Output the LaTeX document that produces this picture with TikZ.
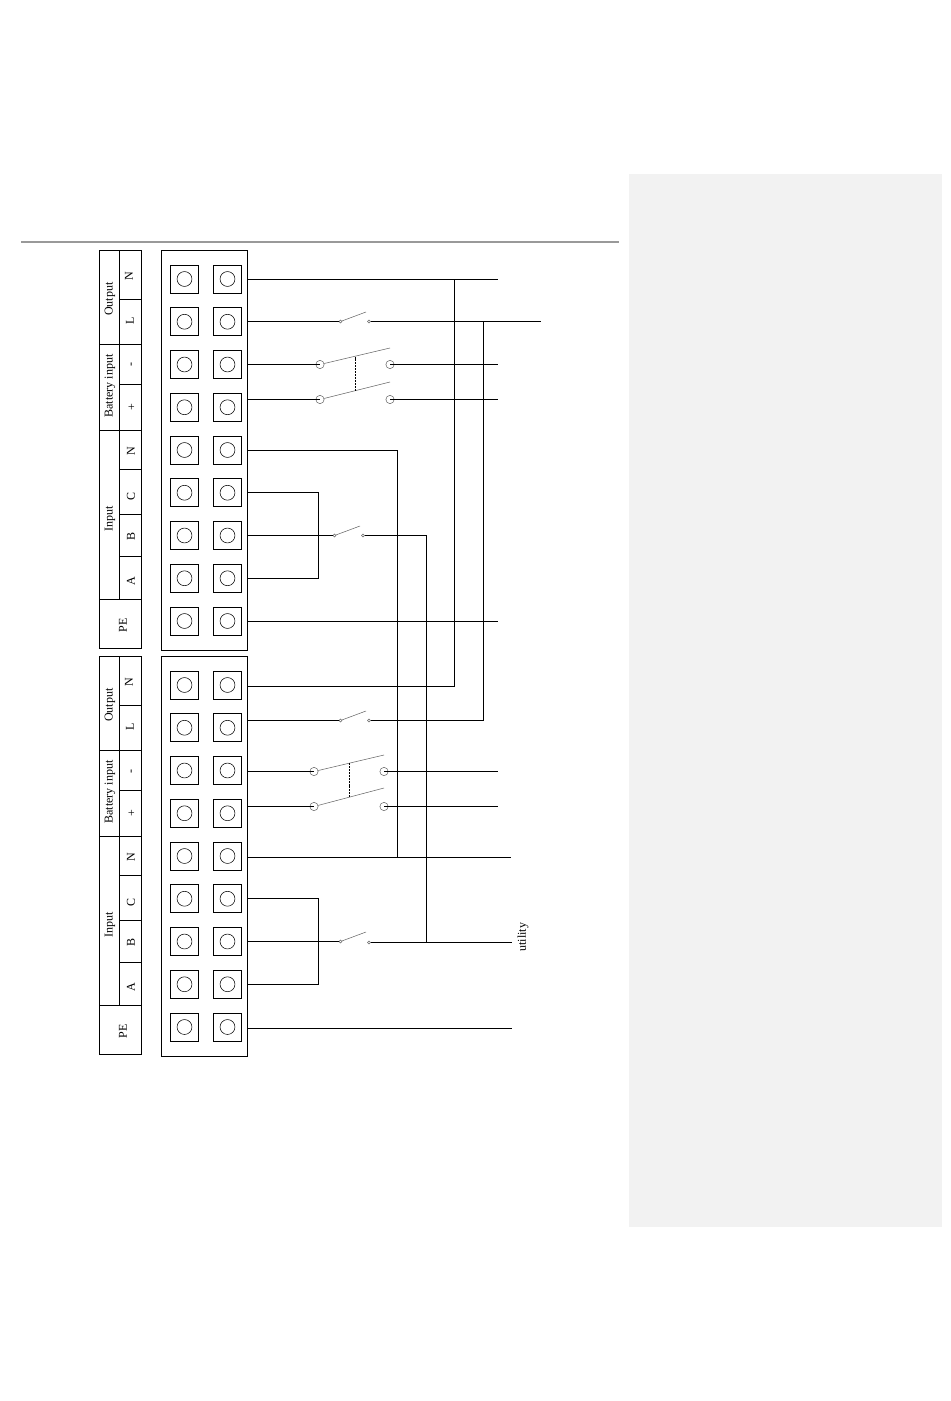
\documentclass[tikz,border=0pt]{standalone}
\usepackage{fontspec}
\setmainfont{Liberation Serif}
\tikzset{
  wire/.style={line width=0.75pt},
  blade/.style={line width=0.4pt,draw=black!60},
  cell/.style={draw,line width=0.6pt,minimum size=21pt,inner sep=0pt},
  hole/.style={draw,circle,line width=0.4pt,minimum size=11.2pt,inner sep=0pt},
  pin/.style={draw=black!60,circle,line width=0.4pt,minimum size=6.2pt,inner sep=0pt},
  dot/.style={draw=black!60,circle,line width=0.4pt,minimum size=2.2pt,inner sep=0pt},
  lbl/.style={rotate=90,font=\fontsize{9pt}{11pt}\selectfont,inner sep=0pt},
}
\begin{document}
\begin{tikzpicture}[x=0.75pt,y=0.75pt,yscale=-1,xscale=1]
\useasboundingbox (0,0) rectangle (950,1401);

% page
\fill [fill={rgb, 255:red, 242; green, 242; blue, 242 }] (629,174) rectangle (942,1227);
\draw [line width=0.9pt,draw=black!40] (21,242) -- (619,242);

% label tables and terminal blocks
\foreach \blk/\y in {a/0,b/406}{
  \begin{scope}[yshift=\y*0.75pt]
  \draw [line width=0.6pt] (99.5,250.5) rectangle (141.5,648.5);
  \draw [line width=0.6pt] (119.5,250.5) -- (119.5,599.5);
  \draw [line width=0.6pt] (99.5,344.5) -- (141.5,344.5) (99.5,430.5) -- (141.5,430.5) (99.5,599.5) -- (141.5,599.5);
  \draw [line width=0.6pt] (119.5,299.5) -- (141.5,299.5) (119.5,384.5) -- (141.5,384.5) (119.5,469.5) -- (141.5,469.5) (119.5,514.5) -- (141.5,514.5) (119.5,556.5) -- (141.5,556.5);
  \node [lbl] (\blk output) at (110,299) {Output};
  \node [lbl] (\blk battery) at (110,386) {Battery input};
  \node [lbl] (\blk input) at (110,519) {Input};
  \node [lbl] (\blk pe) at (123,625) {PE};
  \node [lbl] (\blk n) at (129,276) {N};
  \node [lbl] (\blk l) at (130,321) {L};
  \node [lbl] (\blk minus) at (132.5,365) {-};
  \node [lbl] (\blk plus) at (132,407) {+};
  \node [lbl] (\blk nin) at (131,451) {N};
  \node [lbl] (\blk c) at (131,496) {C};
  \node [lbl] (\blk b) at (131,536) {B};
  \node [lbl] (\blk a) at (131,581) {A};
  \draw [line width=0.6pt] (161.5,250.5) rectangle (247.5,650.5);
  \foreach \i in {1,...,9}{
    \pgfmathsetmacro{\rowy}{279+(\i-1)*42.75}
    \node [cell] (\blk l\i) at (184.5,\rowy) {};
    \node [hole] (\blk p\i) at (184.5,\rowy) {};
    \node [cell] (\blk r\i) at (227.5,\rowy) {};
    \node [hole] (\blk q\i) at (227.5,\rowy) {};
  }
  \end{scope}
}

% block side of the wires
\foreach \name/\y in {sN/279.5,sL/321.5,sM/364.5,sP/399.5,sIn/450.5,sC/492.5,sB/535.5,sA/578.5,sPE/621.5,
  tN/686.5,tL/720.5,tM/771.5,tP/806.5,tIn/857.5,tC/898.5,tB/941.5,tA/984.5,tPE/1028.5}{
  \coordinate (\name) at (247.5,\y);
}

% switch contacts, upper
\node [dot] (aLin) at (340.5,321.5) {};
\node [dot] (aLout) at (369,321.5) {};
\node [pin] (aMin) at (320,364.5) {};
\node [pin] (aMout) at (390,364.5) {};
\node [pin] (aPin) at (320,399.5) {};
\node [pin] (aPout) at (390,399.5) {};
\node [dot] (aUin) at (334.5,535.5) {};
\node [dot] (aUout) at (363,535.5) {};
% switch contacts, lower
\node [dot] (bLin) at (340.5,720.5) {};
\node [dot] (bLout) at (369,720.5) {};
\node [pin] (bMin) at (314,771.5) {};
\node [pin] (bMout) at (384,771.5) {};
\node [pin] (bPin) at (314,806.5) {};
\node [pin] (bPout) at (384,806.5) {};
\node [dot] (bUin) at (340.5,941.5) {};
\node [dot] (bUout) at (369,942.5) {};

% blades
\draw [blade] (aLin) -- (366,312);
\draw [blade] (aUin) -- (360,526);
\draw [blade] (bLin) -- (366,711);
\draw [blade] (bUin) -- (366,932);
\draw [blade] (aMin) -- (390,348);
\draw [blade] (aPin) -- (390,382);
\draw [blade] (bMin) -- (384,755);
\draw [blade] (bPin) -- (384,788);
\draw [line width=0.7pt,dash pattern=on 1.5pt off 0.7pt] (355.5,356.5) -- (355.5,390.5);
\draw [line width=0.7pt,dash pattern=on 1.5pt off 0.7pt] (349.5,763) -- (349.5,797);

% free ends
\coordinate (endN) at (498,279.5);
\coordinate (endL) at (541,321.5);
\coordinate (endM) at (498,364.5);
\coordinate (endP) at (498,399.5);
\coordinate (endPE) at (498,621.5);
\coordinate (endM2) at (498,771.5);
\coordinate (endP2) at (498,806.5);
\coordinate (endN2) at (511,857.5);
\coordinate (endU) at (512,942.5);
\coordinate (endPE2) at (512,1028.5);
\coordinate (tapN) at (454.5,279.5);
\coordinate (tapL) at (483.5,321.5);
\coordinate (tapN3) at (454.5,686.5);
\coordinate (tapL3) at (483.5,720.5);
\coordinate (tapIn) at (397.5,450.5);
\coordinate (tapU) at (426.5,535.5);
\coordinate (tapN2) at (397.5,857.5);
\coordinate (tapU2) at (426.5,942.5);
\coordinate (busA) at (318.5,492.5);
\coordinate (busB) at (318.5,578.5);
\coordinate (busC) at (318.5,898.5);
\coordinate (busD) at (318.5,984.5);

% upper wiring
\draw [wire] (sN) -- (endN);
\draw [wire] (sL) -- (aLin);
\draw [wire] (aLout) -- (endL);
\draw [wire] (sM) -- (aMin.center);
\draw [wire] (aMout.center) -- (endM);
\draw [wire] (sP) -- (aPin.center);
\draw [wire] (aPout.center) -- (endP);
\draw [wire] (sIn) -- (tapIn);
\draw [wire] (sC) -- (busA) -- (busB) -- (sA);
\draw [wire] (sB) -- (aUin);
\draw [wire] (aUout) -- (tapU);
\draw [wire] (sPE) -- (endPE);

% lower wiring
\draw [wire] (tN) -- (tapN3) -- (tapN);
\draw [wire] (tL) -- (bLin);
\draw [wire] (bLout) -- (tapL3) -- (tapL);
\draw [wire] (tM) -- (bMin.center);
\draw [wire] (bMout.center) -- (endM2);
\draw [wire] (tP) -- (bPin.center);
\draw [wire] (bPout.center) -- (endP2);
\draw [wire] (tIn) -- (endN2);
\draw [wire] (tapIn) -- (tapN2);
\draw [wire] (tC) -- (busC) -- (busD) -- (tA);
\draw [wire] (tB) -- (bUin);
\draw [wire] (bUout) -- (endU);
\draw [wire] (tapU) -- (tapU2);
\draw [wire] (tPE) -- (endPE2);

\node [lbl] (utility) at (523,937) {utility};

\end{tikzpicture}
\end{document}
